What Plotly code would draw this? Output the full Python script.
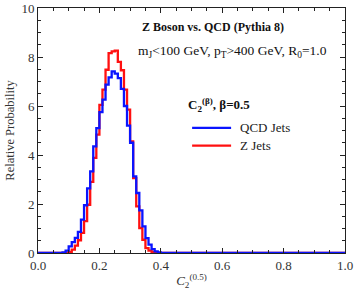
import plotly.graph_objects as go

# histogram bins: width 0.01 from 0.0 to 1.0
bin_width = 0.01
n_bins = 100

# nonzero region starts at bin 0.08 (index 8)
qcd_core = [0.02, 0.10, 0.27, 0.44, 0.62, 0.86, 1.36, 1.95, 2.64, 3.33,
            4.35, 5.10, 5.75, 6.26, 6.87, 7.17, 7.41, 7.32, 7.14, 6.70,
            6.00, 5.20, 4.50, 3.13, 2.45, 1.74, 1.09, 0.61, 0.34, 0.16,
            0.07, 0.02]
z_core = [0.00, 0.00, 0.04, 0.14, 0.30, 0.52, 0.82, 1.30, 1.97, 2.90,
          3.88, 4.83, 6.05, 6.67, 7.48, 8.16, 8.23, 8.26, 7.80, 7.46,
          6.67, 5.85, 4.56, 3.06, 1.90, 1.02, 0.54, 0.20, 0.10, 0.04,
          0.00, 0.00]
core_start = 8

qcd_vals = [0.0] * core_start + qcd_core + [0.0] * (n_bins - core_start - len(qcd_core))
z_vals = [0.0] * core_start + z_core + [0.0] * (n_bins - core_start - len(z_core))
edges = [round(i * bin_width, 4) for i in range(n_bins + 1)]

x_ticks = [0.0, 0.2, 0.4, 0.6, 0.8, 1.0]
x_ticklabels = ["0.0", "0.2", "0.4", "0.6", "0.8", "1.0"]
y_ticks = [0, 2, 4, 6, 8, 10]

BLUE = "#0a14ff"
RED = "#ff1010"
FONT = "Liberation Serif, Times New Roman, serif"

fig = go.Figure()
fig.add_trace(go.Scatter(x=edges, y=z_vals + [z_vals[-1]], mode="lines",
                         line=dict(color=RED, width=2.3, shape="hv"),
                         name="Z Jets", showlegend=False))
fig.add_trace(go.Scatter(x=edges, y=qcd_vals + [qcd_vals[-1]], mode="lines",
                         line=dict(color=BLUE, width=2.3, shape="hv"),
                         name="QCD Jets", showlegend=False))

axis_common = dict(showline=True, linecolor="#222", linewidth=1, mirror="allticks",
                   ticks="inside", tickcolor="#222", ticklen=5, showgrid=False,
                   zeroline=False, automargin=False,
                   tickfont=dict(family=FONT, size=13, color="#333"))

fig.update_xaxes(range=[0, 1], tickvals=x_ticks, ticktext=x_ticklabels,
                 minor=dict(dtick=0.05, ticks="inside", ticklen=3, tickcolor="#222", showgrid=False),
                 title=dict(text="<i>C</i><sub>2</sub><sup>(0.5)</sup>",
                            font=dict(family=FONT, size=13, color="#333"), standoff=4),
                 **axis_common)
fig.update_yaxes(range=[0, 10], tickvals=y_ticks,
                 minor=dict(dtick=0.5, ticks="inside", ticklen=3, tickcolor="#222", showgrid=False),
                 title=dict(text="Relative Probability",
                            font=dict(family=FONT, size=12.5, color="#333"), standoff=4),
                 **axis_common)

anns = [
    dict(text="<b>Z Boson vs. QCD (Pythia 8)</b>", x=0.57, y=0.923, size=12),
    dict(text="m<sub>J</sub><100 GeV, p<sub>T</sub>>400 GeV, R<sub>0</sub>=1.0", x=0.632, y=0.822, size=13.5),
]
annotations = []
for a in anns:
    annotations.append(dict(text=a["text"], x=a["x"], y=a["y"], xref="paper", yref="paper",
                            xanchor="center", yanchor="middle", showarrow=False,
                            font=dict(family=FONT, size=a["size"], color="#111")))
annotations.append(dict(text="<b>C<sub>2</sub><sup>(β)</sup>, β=0.5</b>", x=0.482, y=0.605,
                        xref="paper", yref="paper", xanchor="left", yanchor="middle",
                        showarrow=False, font=dict(family=FONT, size=13, color="#111")))
legend_items = [("QCD Jets", BLUE, 0.511), ("Z Jets", RED, 0.438)]
shapes = []
for label, color, yy in legend_items:
    annotations.append(dict(text=label, x=0.651, y=yy, xref="paper", yref="paper",
                            xanchor="left", yanchor="middle", showarrow=False,
                            font=dict(family=FONT, size=13, color="#222")))
    shapes.append(dict(type="line", xref="paper", yref="paper", x0=0.502, x1=0.629,
                       y0=yy, y1=yy, line=dict(color=color, width=2.3)))

fig.update_layout(width=354, height=297, margin=dict(l=38, r=9, t=8, b=44),
                  paper_bgcolor="white", plot_bgcolor="white",
                  annotations=annotations, shapes=shapes, showlegend=False,
                  font=dict(family=FONT))

fig.write_html("out.html", config={"displayModeBar": False},
               post_script="document.body.style.margin='0';document.body.style.overflow='hidden';")
